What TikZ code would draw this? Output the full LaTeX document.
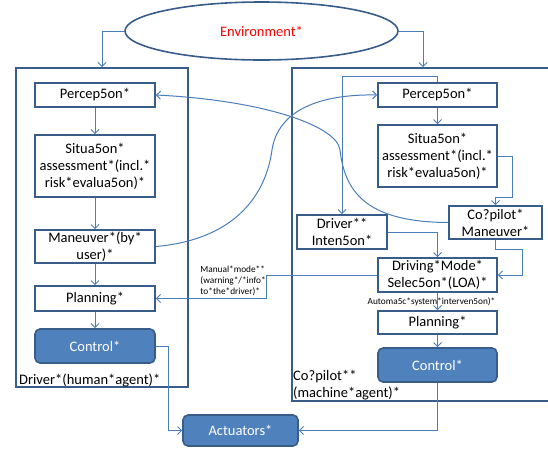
\documentclass[tikz,border=0pt]{standalone}
\usepackage{fontspec}
\setmainfont{Carlito}
\usetikzlibrary{shapes.geometric,arrows.meta}

\definecolor{boxline}{HTML}{385D8A}
\definecolor{linkblue}{HTML}{4A7EBB}
\definecolor{ctlfill}{HTML}{4F81BD}

\newcommand*{\hx}{95}
\newcommand*{\mx}{437.5}

\begin{document}
\begin{tikzpicture}
[
	x=1pt, y=-1pt,
	box/.style={draw=boxline,line width=1.6pt,inner sep=0pt,align=center,font=\fontsize{14.5}{17}\selectfont},
	ctl/.style={box,fill=ctlfill,rounded corners=5pt,text=white},
	frame/.style={draw=boxline,line width=1.6pt,inner sep=0pt},
	link/.style={draw=linkblue,line width=1pt,-{Straight Barb[length=4pt,width=8pt]}},
	lbl/.style={inner sep=0pt,align=left,font=\fontsize{9.3}{11}\selectfont}
]
	\useasboundingbox (0,0) rectangle (548,448);

	% agents
	\node[frame,minimum width=172,minimum height=319] (hbox) at (102,227.5) {};
	\node[frame,minimum width=262,minimum height=333] (mbox) at (423,234.5) {};
	\node[box,ellipse,minimum width=273,minimum height=58,text=red] (env) at (261.5,31) {Environment*};

	% driver side
	\node[box,minimum width=120,minimum height=24] (hper) at (\hx,95) {Percep5on*};
	\node[box,minimum width=120,minimum height=62,text width=118] (hsit) at (\hx,166) {Situa5on*\\assessment*(incl.*\\risk*evalua5on)*};
	\node[box,minimum width=120,minimum height=33,text width=118] (hman) at (\hx,246.5) {Maneuver*(by*\\user)*};
	\node[box,minimum width=120,minimum height=25] (hpla) at (\hx,298.5) {Planning*};
	\node[ctl,minimum width=120,minimum height=34] (hctl) at (\hx,346) {Control*};
	\node[anchor=west,inner sep=0pt,font=\fontsize{14.5}{17}\selectfont] (hlbl) at (19,380) {Driver*(human*agent)*};

	% co-pilot side
	\node[box,minimum width=119,minimum height=24] (mper) at (\mx,95) {Percep5on*};
	\node[box,minimum width=119,minimum height=62,text width=117] (msit) at (\mx,156) {Situa5on*\\assessment*(incl.*\\risk*evalua5on)*};
	\node[box,minimum width=93,minimum height=33,text width=91] (mcop) at (495.5,222.5) {Co?pilot*\\Maneuver*};
	\node[box,minimum width=90,minimum height=34,text width=88] (mdri) at (342,232) {Driver**\\Inten5on*};
	\node[box,minimum width=119,minimum height=34,text width=117] (mmod) at (\mx,275) {Driving*Mode*\\Selec5on*(LOA)*};
	\node[box,minimum width=119,minimum height=23] (mpla) at (\mx,322.5) {Planning*};
	\node[ctl,minimum width=119,minimum height=34] (mctl) at (\mx,365) {Control*};
	\node[anchor=west,inner sep=0pt,align=left,font=\fontsize{14.5}{17}\selectfont] (mlbl) at (293,385.5) {Co?pilot**\\(machine*agent)*};

	\node[ctl,minimum width=115,minimum height=31] (act) at (240.5,430.5) {Actuators*};

	% environment to both agents
	\draw[link] (env.west) -| (hbox.north);
	\draw[link] (env.east) -| (mbox.north);

	% chains
	\foreach \a/\b in {hper/hsit,hsit/hman,hman/hpla,hpla/hctl,mper/msit,mpla/mctl} {
		\draw[link] (\a.south) -- (\b.north);
	}
	\draw[link] (mmod.south) -- (mpla.north)
	  node[lbl,midway,xshift=-6pt] (autolbl) {Automa5c*system*interven5on)*};

	\draw[link] (mper.north) -- ++(0,-6) -| (mdri.north);
	\draw[link] (msit.east) -- ++(15,0) -- ++(0,41) -| (mcop.north);
	\draw[link] (mcop.south) -- ++(0,10) -- ++(26.5,0) |- (mmod.east);
	\draw[link] (mdri.east) -| (mmod.north);

	% manual mode back to driver
	\draw[link] (mmod.west) -- ++(-111,0) |- (hpla.east);
	\node[lbl,anchor=east] (manlbl) at (266,280.5) {Manual*mode**\\(warning*/*info*\\to*the*driver)*};

	% maneuvers across
	\draw[link] (mcop.west) .. controls (370,222) and (345,195) .. (340,150)
	  .. controls (337,125) and (260,100) .. (hper.east);
	\draw[link] (hman.east) .. controls (230,240) and (265,200) .. (272,150)
	  .. controls (278,110) and (320,94) .. (mper.west);

	% actuators
	\draw[link] (hctl.east) -- ++(13,0) |- (act.west);
	\draw[link] (mctl.south) |- (act.east);

\end{tikzpicture}
\end{document}
